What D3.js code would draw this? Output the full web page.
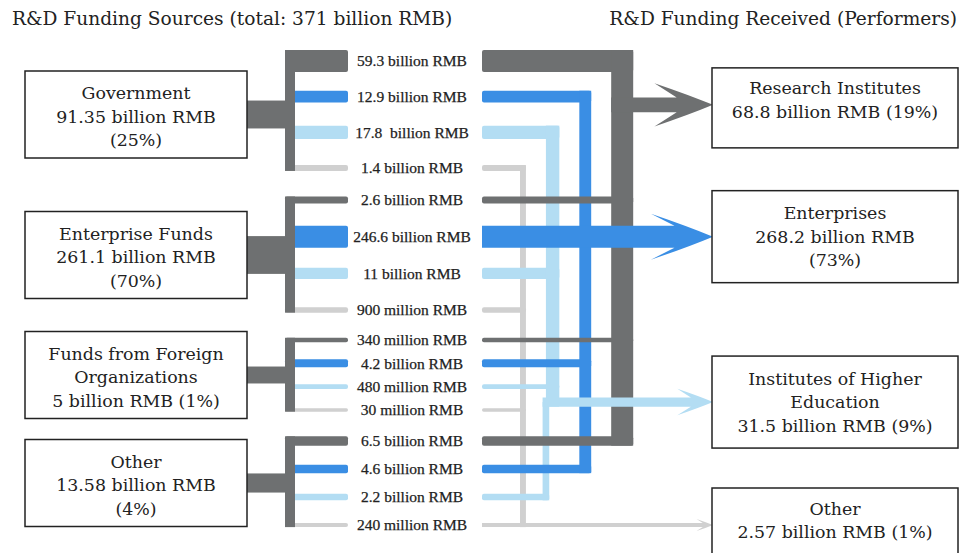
<!DOCTYPE html>
<html><head><meta charset="utf-8">
<script src="https://cdn.jsdelivr.net/npm/d3@7"></script>
<style>body{margin:0;background:#fff}text{white-space:pre}</style>
</head><body><svg id="c" width="961" height="553"></svg>
<script>
// ---------------- DATA ----------------
const titleSources = "R&D Funding Sources (total: 371 billion RMB)";
const titlePerformers = "R&D Funding Received (Performers)";
const sources = ["Government", "Enterprise Funds", "Funds from Foreign Organizations", "Other"];
const sourceValues = [91.35, 261.1, 5, 13.58];
const sourceLabels = [
  ["Government", "91.35 billion RMB", "(25%)"],
  ["Enterprise Funds", "261.1 billion RMB", "(70%)"],
  ["Funds from Foreign", "Organizations", "5 billion RMB (1%)"],
  ["Other", "13.58 billion RMB", "(4%)"]
];
const performers = ["Research Institutes", "Enterprises", "Institutes of Higher Education", "Other"];
const performerValues = [68.8, 268.2, 31.5, 2.57];
const performerLabels = [
  ["Research Institutes", "68.8 billion RMB (19%)"],
  ["Enterprises", "268.2 billion RMB", "(73%)"],
  ["Institutes of Higher", "Education", "31.5 billion RMB (9%)"],
  ["Other", "2.57 billion RMB (1%)"]
];
// flows[source][performer], billion RMB
const flowValues = [
  [59.3, 12.9, 17.8, 1.4],
  [2.6, 246.6, 11, 0.9],
  [0.34, 4.2, 0.48, 0.03],
  [6.5, 4.6, 2.2, 0.24]
];
const flowLabels = [
  ["59.3 billion RMB", "12.9 billion RMB", "17.8  billion RMB", "1.4 billion RMB"],
  ["2.6 billion RMB", "246.6 billion RMB", "11 billion RMB", "900 million RMB"],
  ["340 million RMB", "4.2 billion RMB", "480 million RMB", "30 million RMB"],
  ["6.5 billion RMB", "4.6 billion RMB", "2.2 billion RMB", "240 million RMB"]
];

// ---------------- LAYOUT / STYLE ----------------
const colors = ["#6e7071", "#3a8ee4", "#b3ddf3", "#d0d0d0"];
const ink = "#222";
const boxFont = "'DejaVu Serif', serif";
const labelFont = "'Liberation Serif', serif";
const L = {boxX:25, boxW:222, boxH:87, bracketX:285, bracketW:10, segEnd:348, labelX:412,
           segStart:482, colStart:520, colGap:20, perfX:712, perfW:246, lineH:23.5, fs:17.4, lfs:15.5, tfs:18.6};
const rowY = d3.scaleLinear().domain([0,3,4,7,8,11,12,15]).range([61,168,200,310,340,410,441,525]);
const exitRow = [1.23, 5, 10.66, 15];
const thick = d3.scaleSqrt().domain([0, 59.3]).range([3, 22]).clamp(true);
const connThick = d3.scaleSqrt().domain([0, 261.1]).range([13.6, 37.8]);

const svg = d3.select("#c");

// flows
const flows = [];
flowValues.forEach((row, s) => row.forEach((v, t) => {
  const r = s * 4 + t;
  flows.push({s, t, v, label: flowLabels[s][t], row: r, y: rowY(r), th: thick(v)});
}));

// columns (left to right: Other, Higher Ed, Enterprises, Research)
const cols = [];
let cx = L.colStart;
[3, 2, 1, 0].forEach(t => { const w = thick(flowValues[0][t]); cols[t] = {x: cx, w}; cx += w + L.colGap; });

function hbar(g, x0, x1, y, th, color) {
  g.append("rect").attr("x", x0).attr("y", y - th / 2).attr("width", x1 - x0).attr("height", th)
    .attr("rx", Math.min(2, th / 2)).attr("fill", color);
}
function vbar(g, x, w, y0, y1, color) {
  g.append("rect").attr("x", x).attr("y", y0).attr("width", w).attr("height", y1 - y0).attr("fill", color);
}
function arrow(g, x0, y, s, color) {
  const tip = L.perfX + 1;
  const half = Math.min(23, s * 1.45);
  const len = half * 2.7;
  const back = tip - len, notch = tip - len * 0.62;
  const p = d3.path();
  p.moveTo(x0, y - s / 2);
  p.lineTo(notch, y - s / 2);
  p.lineTo(back, y - half);
  p.quadraticCurveTo(tip - len * 0.4, y - half * 0.45, tip, y);
  p.quadraticCurveTo(tip - len * 0.4, y + half * 0.45, back, y + half);
  p.lineTo(notch, y + s / 2);
  p.lineTo(x0, y + s / 2);
  p.closePath();
  g.append("path").attr("d", p.toString()).attr("fill", color);
}

const routeLayer = svg.append("g");
const arrowLayer = svg.append("g");

[3, 2, 1, 0].forEach(t => {
  const g = routeLayer.append("g");
  const color = colors[t];
  const c = cols[t];
  const fs = flows.filter(f => f.t === t);
  const exitY = rowY(exitRow[t]);
  const straight = fs.find(f => Math.abs(f.row - exitRow[t]) < 0.01);
  const shaft = straight ? straight.th : c.w * 0.68;
  const top = fs[0].y - fs[0].th / 2;
  const last = fs[fs.length - 1];
  const bottom = last.y + last.th / 2;
  const below = fs.filter(f => f !== straight && f.y > exitY + 1);
  const split = below.length === 1 && !straight;
  const lowX = split ? c.x - below[0].th / 2 : c.x;
  const rightAt = y => (split && y > exitY + shaft / 2) ? lowX + below[0].th : c.x + c.w;
  fs.forEach(f => { if (f !== straight) hbar(g, L.segStart, rightAt(f.y), f.y, f.th, color); });
  if (split) {
    vbar(g, c.x, c.w, top, exitY + shaft / 2, color);
    vbar(g, lowX, below[0].th, exitY, bottom, color);
  } else {
    vbar(g, c.x, c.w, top, bottom, color);
  }
  if (straight) arrow(arrowLayer, L.segStart, straight.y, straight.th, color);
  else arrow(arrowLayer, split ? lowX : c.x, exitY, shaft, color);
});

// left side: connectors, brackets, left segments, boxes
sources.forEach((src, s) => {
  const fs = flows.filter(f => f.s === s);
  const cy = rowY(s * 4 + 1.5);
  fs.forEach(f => hbar(svg, L.bracketX, L.segEnd, f.y, f.th, colors[f.t]));
  const top = fs[0].y - fs[0].th / 2, bot = fs[3].y + fs[3].th / 2;
  vbar(svg, L.bracketX, L.bracketW, top, bot, colors[0]);
  const ct = connThick(sourceValues[s]);
  svg.append("rect").attr("x", L.boxX + L.boxW).attr("y", cy - ct / 2)
    .attr("width", L.bracketX + 2 - L.boxX - L.boxW).attr("height", ct).attr("fill", colors[0]);
  svg.append("rect").attr("x", L.boxX).attr("y", cy - L.boxH / 2).attr("width", L.boxW).attr("height", L.boxH)
    .attr("fill", "#fff").attr("stroke", ink).attr("stroke-width", 1.5);
  const lines = sourceLabels[s];
  lines.forEach((ln, i) => {
    svg.append("text").attr("x", L.boxX + L.boxW / 2)
      .attr("y", cy + 2 + (i - (lines.length - 1) / 2) * L.lineH + L.fs * 0.36)
      .attr("text-anchor", "middle").attr("font-family", boxFont).attr("font-size", L.fs)
      .attr("fill", ink).text(ln);
  });
});

// flow labels
svg.append("g").selectAll("text").data(flows).join("text")
  .attr("x", L.labelX).attr("y", d => d.y + L.lfs * 0.34)
  .attr("text-anchor", "middle").attr("font-family", labelFont).attr("font-size", L.lfs)
  .attr("fill", ink).attr("stroke", ink).attr("stroke-width", 0.25).text(d => d.label);

// performer boxes
performers.forEach((p, t) => {
  const cy = rowY(exitRow[t]);
  const lines = performerLabels[t];
  const n = lines.length;
  const h = n === 2 ? 80 : 92;
  const top = n === 2 ? cy - 37 : cy - h / 2;
  const off = n === 2 ? -5 : 0;
  svg.append("rect").attr("x", L.perfX).attr("y", top).attr("width", L.perfW).attr("height", h)
    .attr("fill", "#fff").attr("stroke", ink).attr("stroke-width", 1.5);
  lines.forEach((ln, i) => {
    svg.append("text").attr("x", L.perfX + L.perfW / 2)
      .attr("y", cy + off + (i - (n - 1) / 2) * L.lineH + L.fs * 0.36)
      .attr("text-anchor", "middle").attr("font-family", boxFont).attr("font-size", L.fs)
      .attr("fill", ink).text(ln);
  });
});

// titles
svg.append("text").attr("x", 12).attr("y", 25).attr("font-family", boxFont).attr("font-size", L.tfs)
  .attr("fill", ink).text(titleSources);
svg.append("text").attr("x", 957).attr("y", 25).attr("text-anchor", "end").attr("font-family", boxFont)
  .attr("font-size", L.tfs).attr("fill", ink).text(titlePerformers);
</script></body></html>
